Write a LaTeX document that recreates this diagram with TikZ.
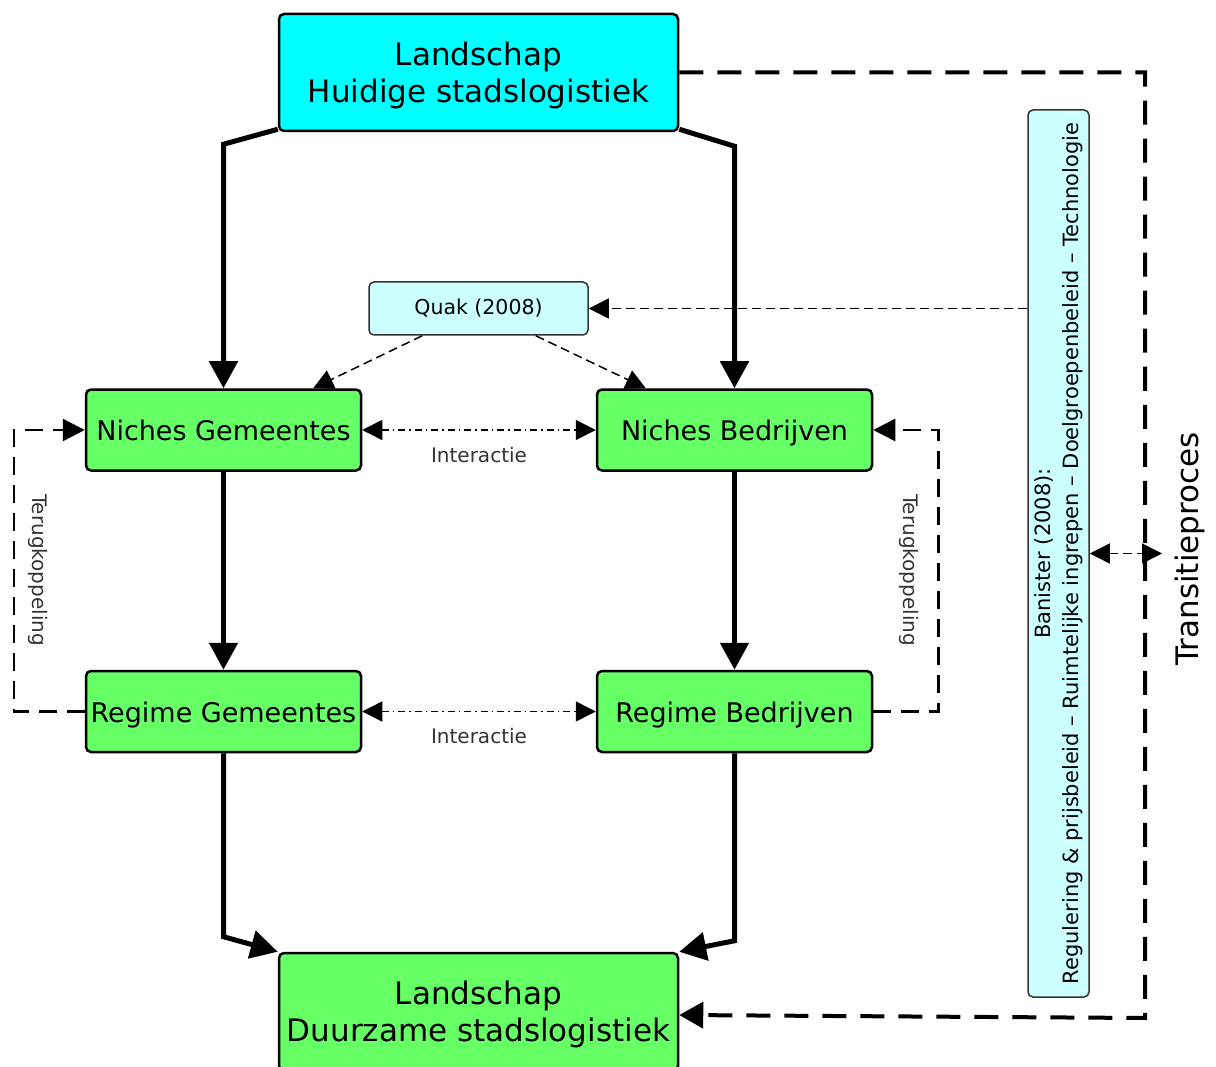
\documentclass[tikz,border=0pt]{standalone}
\usepackage{fontspec}
\setmainfont{DejaVu Sans}
\usetikzlibrary{arrows.meta, calc}
\definecolor{landfill}{HTML}{00FFFF}
\definecolor{reffill}{HTML}{CCFFFF}
\definecolor{actfill}{HTML}{66FF66}
\definecolor{refline}{HTML}{333333}
\tikzset{
  landblk/.style  = {rectangle, rounded corners=5pt, draw=black, line width=2.5pt, fill=landfill,
                     align=center, font=\fontsize{31}{37}\selectfont, minimum width=399pt,
                     minimum height=117pt, inner sep=0pt},
  actblk/.style   = {rectangle, rounded corners=5pt, draw=black, line width=2.5pt, fill=actfill,
                     align=center, font=\fontsize{27}{32}\selectfont, minimum width=275pt,
                     minimum height=81pt, inner sep=0pt, text height=21pt, text depth=0pt},
  refblk/.style   = {rectangle, rounded corners=5pt, draw=refline, line width=1.5pt, fill=reffill,
                     align=center, font=\fontsize{21}{28}\selectfont, inner sep=0pt},
  lbl/.style      = {font=\fontsize{20}{24}\selectfont, text=black!80},
  flow/.style     = {-{Triangle[length=27pt, width=28pt]}, line width=5pt},
  transflow/.style= {-{Triangle[length=24pt, width=26pt]}, line width=4pt, dash pattern=on 24pt off 14pt},
  backflow/.style = {-{Triangle[length=22pt, width=22pt]}, line width=2.5pt, dash pattern=on 18pt off 10pt},
  refflow/.style  = {-{Triangle[length=20pt, width=20pt]}, line width=1.5pt, dash pattern=on 9pt off 5pt},
  dblflow/.style  = {{Triangle[length=20pt, width=20pt]}-{Triangle[length=20pt, width=20pt]},
                     line width=1.5pt, dash pattern=on 9pt off 5pt},
  interflow/.style= {{Triangle[length=20pt, width=20pt]}-{Triangle[length=20pt, width=20pt]},
                     line width=1.5pt, dash pattern=on 7pt off 4pt on 1.5pt off 4pt},
}

\begin{document}
\begin{tikzpicture}[x=1pt, y=-1pt]
  \useasboundingbox (0,0) rectangle (1216,1067);
  \clip (0,0) rectangle (1216,1067);

  \node[landblk] (lsHuidig) at (478.5,72.5) {\rule{0pt}{29pt}Landschap\\Huidige stadslogistiek};
  \node[landblk, fill=actfill, minimum height=118pt] (lsDuurz) at (478.5,1012) {\rule{0pt}{29pt}Landschap\\Duurzame stadslogistiek};
  \node[refblk, font=\fontsize{20.5}{24}\selectfont, minimum width=219pt, minimum height=53pt] (quak) at (478.5,308.5) {Quak (2008)};
  \foreach \nm/\x/\y/\txt in {nichG/223.5/430/{Niches Gemeentes}, nichB/734.5/430/{Niches Bedrijven},
                               regG/223.5/711.5/{Regime Gemeentes}, regB/734.5/711.5/{Regime Bedrijven}}{
    \node[actblk] (\nm) at (\x,\y) {\txt};
  }
  \node[refblk, rotate=90, minimum width=887pt, minimum height=61pt] (banister) at (1058.5,553.5)
    {Banister (2008):\\Regulering \& prijsbeleid -- Ruimtelijke ingrepen -- Doelgroepenbeleid -- Technologie};
  \node[font=\fontsize{31}{37}\selectfont, rotate=90] (transitie) at (1190,549) {Transitieproces};
  \node[lbl, rotate=-90] (tkG) at (38,570) {Terugkoppeling};
  \node[lbl, rotate=-90] (tkB) at (909,570) {Terugkoppeling};

  \coordinate (tr1) at (1145,72.5);
  \coordinate (tr2) at (1145,1018);
  \coordinate (tp) at (1162,553.5);

  % hoofdstroom
  \draw[flow] ([yshift=3pt]lsHuidig.south west) -- ([yshift=-12pt]nichG.north |- lsHuidig.south) -- (nichG.north);
  \draw[flow] ([yshift=3pt]lsHuidig.south east) -- ([yshift=-14pt]nichB.north |- lsHuidig.south) -- (nichB.north);
  \draw[flow] (nichG) -- (regG);
  \draw[flow] (nichB) -- (regB);
  \draw[flow] (regG.south) -- ([yshift=15pt]regG.south |- lsDuurz.north) -- (lsDuurz.north west);
  \draw[flow] (regB.south) -- ([yshift=11pt]regB.south |- lsDuurz.north) -- (lsDuurz.north east);

  % transitie
  \draw[transflow] (lsHuidig.east |- tr1) -- (tr1) -- (tr2) -- ([yshift=-3pt]lsDuurz.east);
  \draw[dblflow] (banister.south) -- (tp);
  \draw[refflow] (banister.north |- quak.east) -- (quak.east);
  \draw[refflow] ([xshift=54pt]quak.south west) -- ([xshift=-49pt]nichG.north east);
  \draw[refflow] ([xshift=-53pt]quak.south east) -- ([xshift=50pt]nichB.north west);

  % interactie en terugkoppeling
  \draw[interflow] (nichG) -- node[lbl, yshift=-25pt] (intN) {Interactie} (nichB);
  \draw[interflow] (regG) -- node[lbl, yshift=-25pt] (intR) {Interactie} (regB);
  \draw[backflow] (regG.west) -- ++(-71,0) |- (nichG.west);
  \draw[backflow] (regB.east) -- ++(65,0) |- (nichB.east);
\end{tikzpicture}
\end{document}
